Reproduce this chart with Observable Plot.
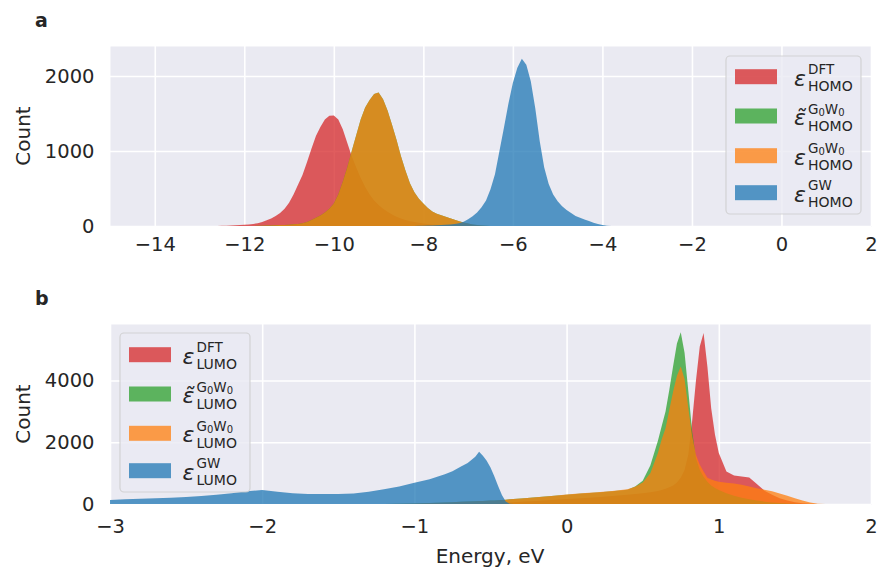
<!DOCTYPE html>
<html>
<head>
<meta charset="utf-8">
<script src="https://cdn.jsdelivr.net/npm/d3@7"></script>
<script src="https://cdn.jsdelivr.net/npm/@observablehq/plot@0.6"></script>
<style>
  html, body { margin: 0; padding: 0; background: #ffffff; }
  #wrap { position: relative; width: 878px; height: 568px; overflow: hidden; background: #ffffff; }
  #panelA { position: absolute; left: 0; top: 0; }
  #panelB { position: absolute; left: 0; top: 270px; }
  #overlay { position: absolute; left: 0; top: 0; pointer-events: none; }
</style>
</head>
<body>
<div id="wrap">
  <div id="panelA"></div>
  <div id="panelB"></div>
</div>
<script>
// ---------------- Panel a: HOMO energies (eV) and counts ----------------
const homoEnergy = [
  -12.6,-12.5,-12.4,-12.3,-12.2,-12.1,-12.0,-11.9,-11.8,-11.7,
  -11.6,-11.5,-11.4,-11.3,-11.2,-11.1,-11.0,-10.9,-10.8,-10.7,
  -10.6,-10.5,-10.4,-10.3,-10.2,-10.1,-10.0,-9.9,-9.8,-9.7,
  -9.6,-9.5,-9.4,-9.3,-9.2,-9.1,-9.0,-8.9,-8.8,-8.7,
  -8.6,-8.5,-8.4,-8.3,-8.2,-8.1,-8.0,-7.9,-7.8,-7.7,
  -7.6,-7.5,-7.4,-7.3,-7.2,-7.1,-7.0,-6.9,-6.8,-6.7,
  -6.6,-6.5,-6.4,-6.3,-6.2,-6.1,-6.0,-5.9,-5.8,-5.7,
  -5.6,-5.5,-5.4,-5.3,-5.2,-5.1,-5.0,-4.9,-4.8,-4.7,
  -4.6,-4.5,-4.4,-4.3,-4.2,-4.1,-4.0,-3.9,-3.8
];
const homoDFT = [
  0,2,5,8,10,13,16,20,27,38,
  52,76,100,135,175,230,310,420,550,680,
  850,1030,1200,1320,1420,1470,1475,1420,1290,1110,
  930,780,640,520,420,340,280,230,190,155,
  125,100,80,65,52,42,34,27,21,16,
  12,9,6,4,2,0,0,0,0,0,
  0,0,0,0,0,0,0,0,0,0,
  0,0,0,0,0,0,0,0,0,0,
  0,0,0,0,0,0,0,0,0
];
const homoG0W0tilde = [
  0,0,0,0,0,0,0,0,0,2,
  4,6,8,10,12,15,18,22,28,36,
  55,80,110,140,180,230,300,420,590,780,
  1000,1210,1420,1580,1680,1760,1780,1690,1540,1350,
  1150,930,740,570,450,365,300,240,195,165,
  145,125,105,85,65,48,33,20,12,6,
  2,0,0,0,0,0,0,0,0,0,
  0,0,0,0,0,0,0,0,0,0,
  0,0,0,0,0,0,0,0,0
];
const homoG0W0 = [
  0,0,0,0,0,0,0,0,0,2,
  4,6,8,10,12,15,18,22,28,36,
  55,80,110,140,180,230,300,420,590,780,
  1000,1210,1420,1580,1680,1760,1780,1690,1540,1350,
  1150,930,740,570,450,365,300,240,195,165,
  145,125,105,85,65,48,33,20,12,6,
  2,0,0,0,0,0,0,0,0,0,
  0,0,0,0,0,0,0,0,0,0,
  0,0,0,0,0,0,0,0,0
];
const homoGW = [
  0,0,0,0,0,0,0,0,0,0,
  0,0,0,0,0,0,0,0,0,0,
  0,0,0,0,0,0,0,0,0,0,
  0,0,0,0,0,0,0,0,0,0,
  0,0,0,0,0,2,4,6,8,10,
  13,16,20,27,38,58,90,130,180,250,
  340,490,690,1000,1310,1630,1910,2110,2230,2150,
  1930,1570,1130,780,560,420,330,265,215,175,
  135,110,88,66,45,28,12,3,0
];
const homoXTicks = [-14,-12,-10,-8,-6,-4,-2,0,2];
const homoYTicks = [0,1000,2000];

// ---------------- Panel b: LUMO energies (eV) and counts ----------------
const lumoEnergy = [
  -3.0,-2.9,-2.8,-2.7,-2.6,-2.5,-2.4,-2.3,-2.2,-2.1,
  -2.0,-1.9,-1.8,-1.7,-1.6,-1.5,-1.4,-1.3,-1.2,-1.1,
  -1.0,-0.9,-0.8,-0.75,-0.7,-0.65,-0.6,-0.575,-0.55,-0.525,
  -0.5,-0.475,-0.45,-0.425,-0.4,-0.375,-0.35,-0.3,-0.2,-0.1,
  0.0,0.1,0.2,0.3,0.4,0.45,0.5,0.55,0.6,0.625,
  0.65,0.675,0.7,0.725,0.75,0.775,0.8,0.825,0.85,0.875,
  0.9,0.925,0.95,0.975,1.0,1.05,1.1,1.15,1.2,1.25,
  1.3,1.35,1.4,1.45,1.5,1.55,1.6,1.65,1.7,1.8,
  1.9,2.0
];
const lumoDFT = [
  0,0,0,0,0,0,0,0,0,0,
  0,0,0,0,0,0,0,0,0,0,
  0,0,0,0,0,0,0,0,5,8,
  15,20,30,38,45,52,60,75,100,130,
  160,190,220,260,300,320,350,380,420,450,
  490,540,600,700,850,1100,1600,2700,4000,5100,
  5540,4450,3100,2240,1650,1050,920,890,860,650,
  430,300,190,110,60,25,8,0,0,0,
  0,0
];
const lumoG0W0tilde = [
  0,0,0,0,0,0,0,0,0,0,
  0,0,0,0,0,0,0,0,0,10,
  20,35,50,60,70,80,90,95,100,105,
  110,115,120,130,140,150,160,180,215,260,
  300,340,375,415,465,570,750,1250,2050,2530,
  3000,3700,4470,5200,5560,4900,3640,2350,1480,1100,
  880,720,600,520,450,350,270,200,150,110,
  75,50,30,15,5,0,0,0,0,0,
  0,0
];
const lumoG0W0 = [
  0,0,0,0,0,0,0,0,0,0,
  0,0,0,0,0,0,0,0,0,10,
  20,35,50,60,70,80,90,95,100,105,
  110,115,120,130,140,150,160,180,215,260,
  310,345,380,425,480,560,700,1000,1650,2100,
  2450,3050,3640,4150,4450,4050,3100,2200,1590,1270,
  1050,850,790,750,720,690,660,620,570,510,
  460,410,340,270,190,110,45,12,0,0,
  0,0
];
const lumoGW = [
  130,150,170,185,205,230,260,300,350,410,
  450,400,345,325,320,320,340,400,480,570,
  690,800,960,1060,1200,1330,1530,1690,1560,1400,
  1180,900,580,290,80,10,0,0,0,0,
  0,0,0,0,0,0,0,0,0,0,
  0,0,0,0,0,0,0,0,0,0,
  0,0,0,0,0,0,0,0,0,0,
  0,0,0,0,0,0,0,0,0,0,
  0,0
];
const lumoXTicks = [-3,-2,-1,0,1,2];
const lumoYTicks = [0,2000,4000];

// Series styling; superscript parts: [text, isSubscript]
const seriesColors = ["#d62728", "#2ca02c", "#ff7f0e", "#1f77b4"];
const seriesSup = [
  [["DFT", false]],
  [["G", false], ["0", true], ["W", false], ["0", true]],
  [["G", false], ["0", true], ["W", false], ["0", true]],
  [["GW", false]]
];
const seriesTilde = [false, true, false, false];

// sanity checks
[homoDFT, homoG0W0tilde, homoG0W0, homoGW].forEach((a, i) => {
  if (a.length !== homoEnergy.length) throw new Error("homo series " + i + " length " + a.length);
});
[lumoDFT, lumoG0W0tilde, lumoG0W0, lumoGW].forEach((a, i) => {
  if (a.length !== lumoEnergy.length) throw new Error("lumo series " + i + " length " + a.length);
});

const fmt = d => (d < 0 ? "\u2212" + Math.abs(d) : String(d));
const textColor = "#262626";
const bg = "#EAEAF2";

function panel({energy, series, xDomain, yDomain, xTicks, yTicks, height, marginTop, marginBottom, xPad}) {
  return Plot.plot({
    width: 878,
    height,
    marginLeft: 110,
    marginRight: 7,
    marginTop,
    marginBottom,
    style: {background: "transparent", fontFamily: "DejaVu Sans", fontSize: "19.5px", color: textColor},
    x: {domain: xDomain},
    y: {domain: yDomain},
    marks: [
      Plot.frame({fill: bg, stroke: "none"}),
      Plot.gridX(xTicks, {stroke: "#ffffff", strokeOpacity: 1, strokeWidth: 1.6}),
      Plot.gridY(yTicks, {stroke: "#ffffff", strokeOpacity: 1, strokeWidth: 1.6}),
      ...series.map((vals, i) =>
        Plot.areaY(vals, {x: energy, y: vals, fill: seriesColors[i], fillOpacity: 0.75, curve: "linear", clip: true})
      ),
      Plot.axisX(xTicks, {tickSize: 0, tickPadding: xPad, tickFormat: fmt, label: null, fontSize: 19.5}),
      Plot.axisY(yTicks, {tickSize: 0, tickPadding: 16, tickFormat: fmt, label: null, fontSize: 19.5})
    ]
  });
}

const plotA = panel({
  energy: homoEnergy,
  series: [homoDFT, homoG0W0tilde, homoG0W0, homoGW],
  xDomain: [-15, 2], yDomain: [0, 2400],
  xTicks: homoXTicks, yTicks: homoYTicks,
  height: 270, marginTop: 46, marginBottom: 44, xPad: 11
});
const plotB = panel({
  energy: lumoEnergy,
  series: [lumoDFT, lumoG0W0tilde, lumoG0W0, lumoGW],
  xDomain: [-3, 2], yDomain: [0, 5830],
  xTicks: lumoXTicks, yTicks: lumoYTicks,
  height: 298, marginTop: 54, marginBottom: 64, xPad: 15
});
document.getElementById("panelA").appendChild(plotA);
document.getElementById("panelB").appendChild(plotB);

// ---------------- Overlay: panel letters, axis titles, legends ----------------
const ov = d3.select("#wrap").append("svg")
  .attr("id", "overlay").attr("width", 878).attr("height", 568)
  .attr("font-family", "DejaVu Sans").attr("fill", textColor);

ov.append("text").attr("x", 35).attr("y", 27).attr("font-size", 19).attr("font-weight", "bold").text("a");
ov.append("text").attr("x", 35).attr("y", 305).attr("font-size", 19).attr("font-weight", "bold").text("b");
ov.append("text").attr("transform", "translate(30,136) rotate(-90)").attr("text-anchor", "middle").attr("font-size", 20).text("Count");
ov.append("text").attr("transform", "translate(30,414) rotate(-90)").attr("text-anchor", "middle").attr("font-size", 20).text("Count");
ov.append("text").attr("x", 490).attr("y", 563).attr("text-anchor", "middle").attr("font-size", 20).text("Energy, eV");

function legend({box, rows, swX, epsX, subLabel, subX}) {
  ov.append("rect").attr("x", box[0]).attr("y", box[1]).attr("width", box[2]).attr("height", box[3])
    .attr("rx", 4).attr("fill", bg).attr("fill-opacity", 0.8).attr("stroke", "#cccccc").attr("stroke-opacity", 0.8).attr("stroke-width", 1.2);
  rows.forEach((c, i) => {
    ov.append("rect").attr("x", swX).attr("y", c - 7.5).attr("width", 42).attr("height", 15)
      .attr("fill", seriesColors[i]).attr("fill-opacity", 0.75);
    ov.append("text").attr("x", epsX).attr("y", c + 9).attr("font-size", 22).attr("font-style", "italic")
      .text(seriesTilde[i] ? "\u03b5\u0303" : "\u03b5");
    const sup = ov.append("text").attr("x", subX).attr("y", c - 2.5).attr("font-size", 13.5);
    let lowered = false;
    seriesSup[i].forEach(([s, isSub]) => {
      const sp = sup.append("tspan").text(s);
      if (isSub && !lowered) { sp.attr("dy", 2).attr("font-size", 10); lowered = true; }
      else if (isSub) { sp.attr("font-size", 10); }
      else if (lowered) { sp.attr("dy", -2); lowered = false; }
    });
    ov.append("text").attr("x", subX).attr("y", c + 14.5).attr("font-size", 14).text(subLabel);
  });
}
legend({box: [726, 56, 135, 158], rows: [76.7, 116, 155.7, 192.7], swX: 735, epsX: 794, subLabel: "HOMO", subX: 808});
legend({box: [120, 333, 130, 159], rows: [354.7, 394, 433.3, 470.7], swX: 129, epsX: 182.5, subLabel: "LUMO", subX: 196.5});
</script>
</body>
</html>
